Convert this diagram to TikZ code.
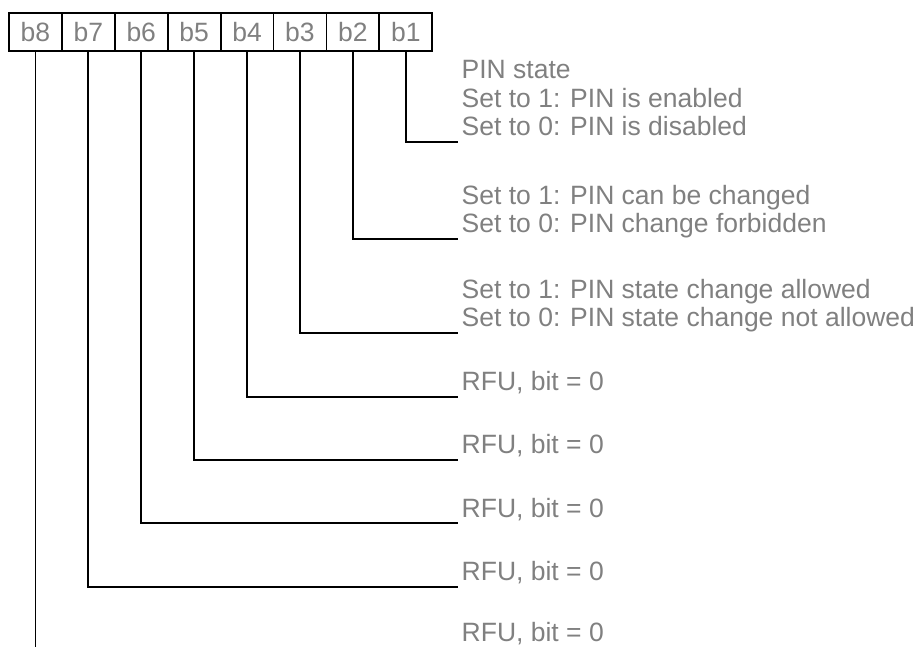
\documentclass[tikz,border=0pt]{standalone}
\usepackage{fontspec}
\setmainfont{Liberation Sans}
\usetikzlibrary{positioning}
\definecolor{labelgray}{RGB}{128,128,128}

\begin{document}
\begin{tikzpicture}[x=1pt,y=-1pt,
    bitbox/.style={draw,line width=1.8pt,minimum width=52.9pt,minimum height=38pt,
      inner sep=0pt,text=labelgray,font=\fontsize{26.5}{28.5}\selectfont},
    desc/.style={align=left,inner sep=0pt,text depth=0pt,text=labelgray,
      font=\fontsize{26.5}{28.5}\selectfont},
    wire/.style={line width=1.8pt}]
\useasboundingbox (0,0) rectangle (918,646);
% the eight bits
\foreach \i in {1,...,8}
  \node[bitbox] (b\i) at ({9+52.9*(8.5-\i)},31.7) {b\i};
% where the leader lines end
\coordinate (e1) at (458,141.7);
\coordinate (e2) at (458,239);
\coordinate (e3) at (458,332.7);
\coordinate (e4) at (458,396.7);
\coordinate (e5) at (458,460);
\coordinate (e6) at (458,523.3);
\coordinate (e7) at (458,586.7);
\coordinate (e8) at (458,648);
% meanings
\node[desc,above right=6pt and 3.5pt of e1] (t1) {PIN state\\Set to 1: PIN is enabled\\Set to 0: PIN is disabled};
\node[desc,above right=6pt and 3.5pt of e2] (t2) {Set to 1: PIN can be changed\\Set to 0: PIN change forbidden};
\node[desc,above right=6pt and 3.5pt of e3] (t3) {Set to 1: PIN state change allowed\\Set to 0: PIN state change not allowed};
\foreach \i in {4,...,8}
  \node[desc,above right=6pt and 3.5pt of e\i] (t\i) {RFU, bit = 0};
% leaders
\foreach \i in {1,...,7}
  \draw[wire] (b\i.south) |- (e\i);
\draw[wire] (b8.south) -- (b8.south |- e8);
\end{tikzpicture}
\end{document}
